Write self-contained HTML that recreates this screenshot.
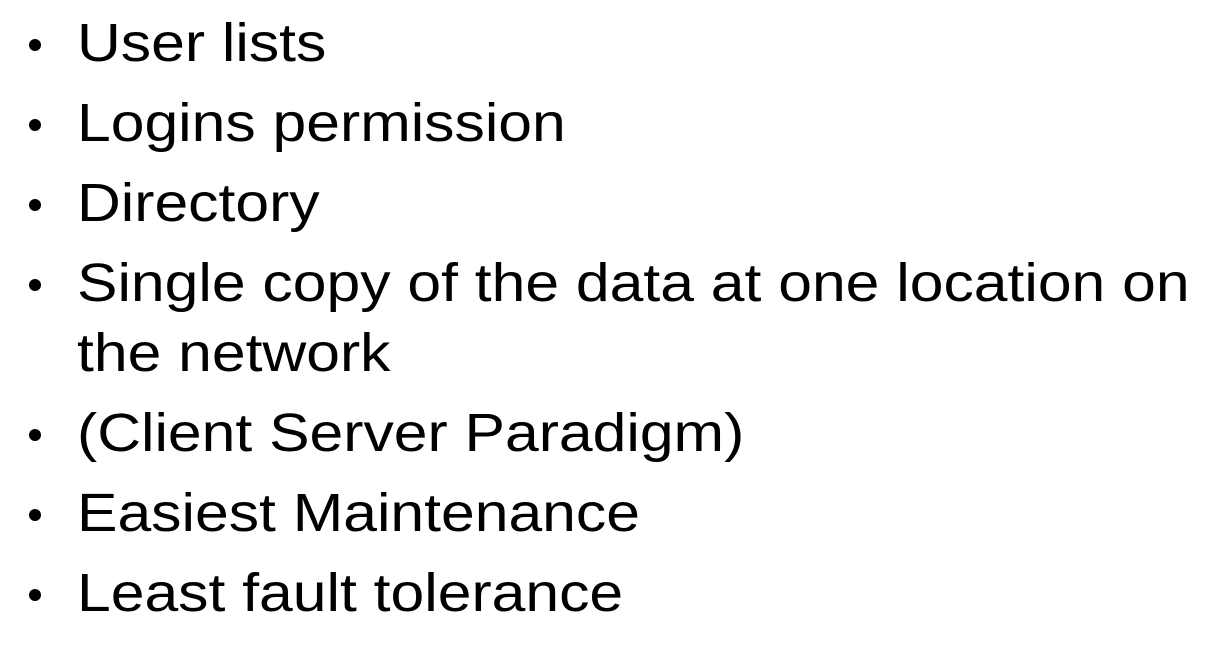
<!DOCTYPE html>
<html><head><meta charset="utf-8"><style>
html,body{margin:0;padding:0;background:#fff;width:1227px;height:663px;overflow:hidden}
.l{position:absolute;left:77px;font-family:"Liberation Sans",Arial,sans-serif;font-size:54px;line-height:54px;color:#000;white-space:nowrap;transform:scaleX(1.123);transform-origin:0 0}
.b{position:absolute;left:29px;width:12px;height:12px;border-radius:50%;background:#000}
</style></head><body>
<div class="b" style="top:39px"></div><div class="l" style="top:16px">User lists</div>
<div class="b" style="top:119px"></div><div class="l" style="top:96px">Logins permission</div>
<div class="b" style="top:199px"></div><div class="l" style="top:176px">Directory</div>
<div class="b" style="top:279px"></div><div class="l" style="top:256px">Single copy of the data at one location on</div>
<div class="l" style="top:326px">the network</div>
<div class="b" style="top:429px"></div><div class="l" style="top:406px">(Client Server Paradigm)</div>
<div class="b" style="top:509px"></div><div class="l" style="top:486px">Easiest Maintenance</div>
<div class="b" style="top:589px"></div><div class="l" style="top:566px">Least fault tolerance</div>
</body></html>
